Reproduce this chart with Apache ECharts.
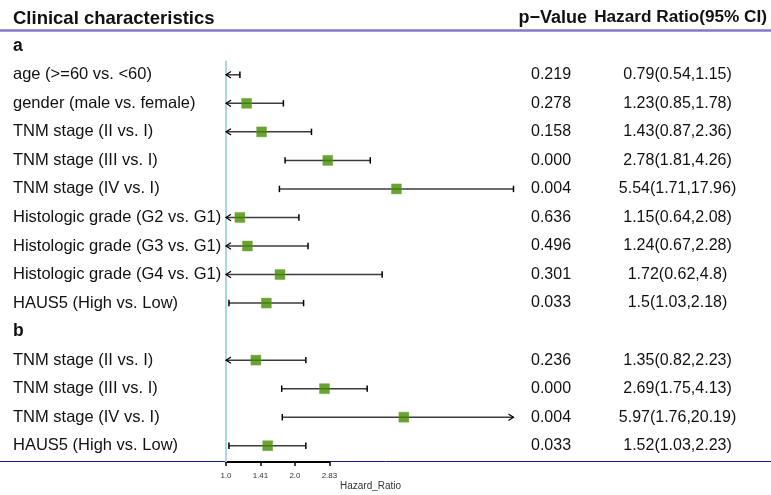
<!DOCTYPE html>
<html>
<head>
<meta charset="utf-8">
<script src="https://cdn.jsdelivr.net/npm/echarts@6/dist/echarts.min.js"></script>
<style>
  html, body { margin: 0; padding: 0; background: #fff; }
  #chart { width: 771px; height: 495px; }
</style>
</head>
<body>
<div id="chart"></div>
<script>
// rows top to bottom, group headers have no estimate
const rowLabels = ['a', 'age (>=60 vs. <60)', 'gender (male vs. female)', 'TNM stage (II vs. I)',
    'TNM stage (III vs. I)', 'TNM stage (IV vs. I)', 'Histologic grade (G2 vs. G1)',
    'Histologic grade (G3 vs. G1)', 'Histologic grade (G4 vs. G1)', 'HAUS5 (High vs. Low)',
    'b', 'TNM stage (II vs. I)', 'TNM stage (III vs. I)', 'TNM stage (IV vs. I)', 'HAUS5 (High vs. Low)']
const groupRows = ['a', 'b']
const hrVals = [null, 0.79, 1.23, 1.43, 2.78, 5.54, 1.15, 1.24, 1.72, 1.5, null, 1.35, 2.69, 5.97, 1.52]
const lowVals = [null, 0.54, 0.85, 0.87, 1.81, 1.71, 0.64, 0.67, 0.62, 1.03, null, 0.82, 1.75, 1.76, 1.03]
const highVals = [null, 1.15, 1.78, 2.36, 4.26, 17.96, 2.08, 2.28, 4.8, 2.18, null, 2.23, 4.13, 20.19, 2.23]
const pVals = ['', '0.219', '0.278', '0.158', '0.000', '0.004', '0.636', '0.496', '0.301', '0.033',
    '', '0.236', '0.000', '0.004', '0.033']
const tickValues = [1, 1.41, 2, 2.83]
const tickLabels = ['1.0', '1.41', '2.0', '2.83']

// clip range of the plot (hazard ratio)
const clipMin = 1
const clipMax = 17.96
const xMin = Math.log2(clipMin)
const xMax = Math.log2(clipMax)

const hrText = hrVals.map((v, i) => v === null ? '' : v + '(' + lowVals[i] + ',' + highVals[i] + ')')

let ciData = []
let pointData = []
hrVals.forEach((v, i) => {
    if (v === null) return
    ciData.push([i, Math.log2(lowVals[i]), Math.log2(highVals[i])])
    pointData.push([Math.log2(v), i])
})

const font = "'Liberation Sans', Arial, Helvetica, sans-serif"
const lineCol = '#3c3c3c'

function renderCI(params, api) {
    const row = api.value(0)
    const lo = api.value(1)
    const hi = api.value(2)
    const p1 = api.coord([Math.max(lo, xMin), row])
    const p2 = api.coord([Math.min(hi, xMax), row])
    const y = p1[1]
    const h = 3.2
    let children = [{
        type: 'line',
        shape: {x1: p1[0], y1: y, x2: p2[0], y2: y},
        style: {stroke: lineCol, lineWidth: 1.5}
    }]
    if (lo < xMin) {
        children.push({type: 'polyline', shape: {points: [[p1[0] + 5, y - h], [p1[0], y], [p1[0] + 5, y + h]]},
            style: {stroke: '#000', lineWidth: 1.2, fill: null}})
    } else {
        children.push({type: 'line', shape: {x1: p1[0], y1: y - h, x2: p1[0], y2: y + h},
            style: {stroke: '#000', lineWidth: 1.5}})
    }
    if (hi > xMax) {
        children.push({type: 'polyline', shape: {points: [[p2[0] - 5, y - h], [p2[0], y], [p2[0] - 5, y + h]]},
            style: {stroke: '#000', lineWidth: 1.2, fill: null}})
    } else {
        children.push({type: 'line', shape: {x1: p2[0], y1: y - h, x2: p2[0], y2: y + h},
            style: {stroke: '#000', lineWidth: 1.5}})
    }
    return {type: 'group', children: children}
}

function renderRef(params, api) {
    const cs = params.coordSys
    const band = api.size([0, 1])[1]
    const top = api.coord([xMin, 1])[1] - band / 2
    const x = api.coord([xMin, 1])[0]
    return {
        type: 'line',
        shape: {x1: x, y1: top, x2: x, y2: cs.y + cs.height + 2},
        style: {stroke: '#A9D8E2', lineWidth: 2}
    }
}

const chart = echarts.init(document.getElementById('chart'))
chart.setOption({
    animation: false,
    textStyle: {fontFamily: font},
    grid: [
        {left: 226, width: 287.5, top: 32, height: 428},
        {left: 226, width: 103.5, top: 461, height: 1}
    ],
    xAxis: [
        {gridIndex: 0, type: 'value', min: xMin, max: xMax, show: false},
        {
            gridIndex: 1, type: 'value', position: 'bottom',
            min: Math.log2(tickValues[0]), max: Math.log2(tickValues[3]), interval: 0.5,
            axisLine: {lineStyle: {color: '#000', width: 2}},
            axisTick: {length: 4, lineStyle: {color: '#000', width: 1.5}},
            splitLine: {show: false},
            axisLabel: {
                margin: 10, fontSize: 8, color: '#333',
                formatter: v => tickLabels[Math.round(v / 0.5)]
            }
        }
    ],
    yAxis: [
        {
            gridIndex: 0, type: 'category', inverse: true, data: rowLabels,
            axisLine: {show: false}, axisTick: {show: false},
            axisLabel: {
                interval: 0, margin: 213, align: 'left', fontSize: 16.5, color: '#111',
                formatter: v => groupRows.includes(v) ? '{b|' + v + '}' : v,
                rich: {b: {fontWeight: 'bold', fontSize: 17.5, color: '#111'}}
            }
        },
        {
            gridIndex: 0, type: 'category', inverse: true, position: 'right', data: pVals,
            axisLine: {show: false}, axisTick: {show: false},
            axisLabel: {interval: 0, margin: 17.5, align: 'left', fontSize: 16, color: '#111'}
        },
        {
            gridIndex: 0, type: 'category', inverse: true, position: 'right', data: hrText,
            axisLine: {show: false}, axisTick: {show: false},
            axisLabel: {interval: 0, margin: 164, align: 'center', fontSize: 16, color: '#111'}
        },
        {gridIndex: 1, type: 'value', show: false}
    ],
    series: [
        {
            type: 'custom', name: 'ref', xAxisIndex: 0, yAxisIndex: 0,
            renderItem: renderRef, data: [[0]], silent: true
        },
        {
            type: 'custom', name: 'CI', xAxisIndex: 0, yAxisIndex: 0,
            renderItem: renderCI, encode: {x: [1, 2], y: 0}, data: ciData, z: 3
        },
        {
            type: 'scatter', name: 'Hazard ratio', xAxisIndex: 0, yAxisIndex: 0,
            symbol: 'rect', symbolSize: 10, clip: true,
            itemStyle: {color: '#458B00', borderColor: '#6aa832', borderWidth: 0.5},
            data: pointData, z: 4
        }
    ],
    graphic: [
        {type: 'text', left: 13, top: 9, style: {text: 'Clinical characteristics', font: 'bold 18.5px ' + font, fill: '#111'}},
        {type: 'text', right: 184, top: 9, style: {text: 'p\u2212Value', font: 'bold 18px ' + font, fill: '#111'}},
        {type: 'text', right: 4, top: 9, style: {text: 'Hazard Ratio(95% CI)', font: 'bold 17.2px ' + font, fill: '#111'}},
        {type: 'line', shape: {x1: 0, y1: 30.5, x2: 771, y2: 30.5}, style: {stroke: '#8677CC', lineWidth: 2.5}},
        {type: 'line', shape: {x1: 0, y1: 461.5, x2: 771, y2: 461.5}, style: {stroke: '#1a1a80', lineWidth: 1}, z: -1},
        {type: 'text', left: 340, top: 481, style: {text: 'Hazard_Ratio', font: '10px ' + font, fill: '#333'}}
    ]
})
</script>
</body>
</html>
